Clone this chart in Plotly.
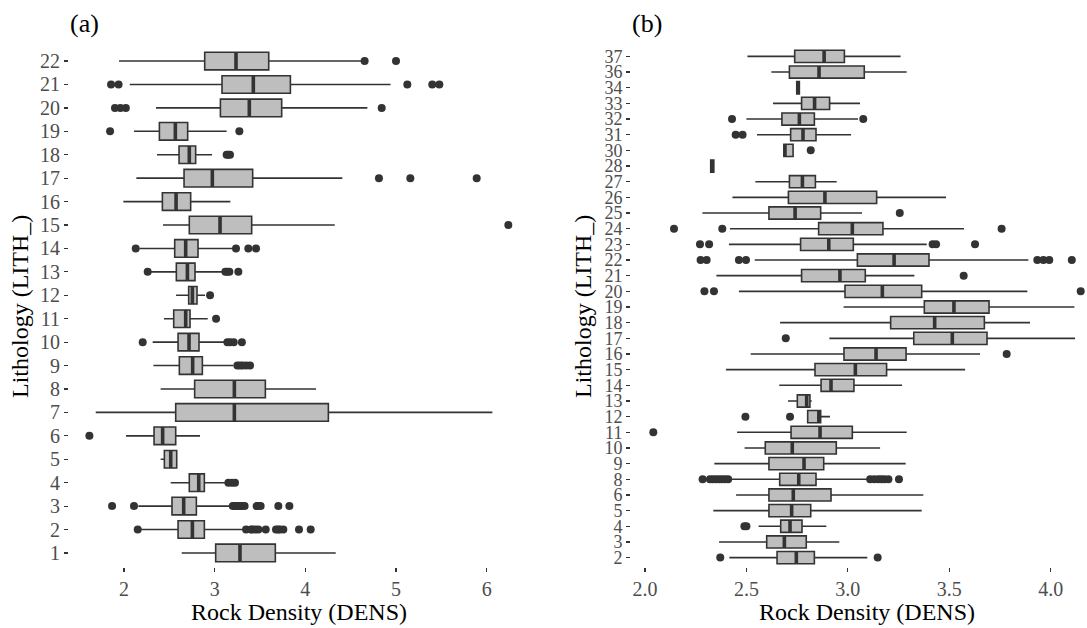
import plotly.graph_objects as go

# ---------------- Panel (a) data ----------------
lith_a = [str(i) for i in range(1, 23)]
q1_a = [3.011, 2.596, 2.529, 2.720, 2.445, 2.331, 2.570, 2.779, 2.610, 2.596, 2.548,
        2.713, 2.577, 2.559, 2.720, 2.423, 2.662, 2.607, 2.390, 3.063, 3.081, 2.890]
med_a = [3.279, 2.754, 2.658, 2.824, 2.515, 2.426, 3.217, 3.217, 2.757, 2.717, 2.680,
         2.754, 2.699, 2.680, 3.059, 2.574, 2.974, 2.720, 2.566, 3.382, 3.426, 3.235]
q3_a = [3.669, 2.886, 2.798, 2.886, 2.581, 2.570, 4.254, 3.559, 2.864, 2.827, 2.728,
        2.805, 2.783, 2.816, 3.408, 2.735, 3.419, 2.790, 2.702, 3.739, 3.835, 3.596]
lo_a = [2.636, 2.170, 2.158, 2.515, 2.404, 2.022, 1.688, 2.404, 2.324, 2.316, 2.441,
        2.574, 2.270, 2.170, 2.430, 1.993, 2.136, 2.364, 2.110, 2.353, 2.063, 1.945]
hi_a = [4.335, 3.310, 3.169, 3.114, 2.581, 2.838, 6.063, 4.118, 3.206, 3.132, 2.923,
        2.893, 3.096, 3.200, 4.324, 3.173, 4.408, 2.971, 3.132, 4.684, 4.940, 4.620]
out_a_lith = (["2"] * 13 + ["3"] * 14 + ["4"] * 3 + ["6"] + ["9"] * 5 + ["10"] * 5 +
              ["11"] + ["12"] + ["13"] * 5 + ["14"] * 4 + ["15"] + ["17"] * 3 +
              ["18"] * 3 + ["19"] * 2 + ["20"] * 4 + ["21"] * 5 + ["22"] * 2)
out_a_dens = [2.151, 3.346, 3.400, 3.419, 3.450, 3.482, 3.563, 3.676, 3.700, 3.720, 3.757, 3.930, 4.059,
              1.868, 2.110, 3.200, 3.220, 3.240, 3.260, 3.280, 3.300, 3.330, 3.463, 3.480, 3.507, 3.702, 3.824,
              3.151, 3.190, 3.224,
              1.618,
              3.250, 3.280, 3.310, 3.350, 3.390,
              2.206, 3.140, 3.170, 3.210, 3.300,
              3.015,
              2.949,
              2.261, 3.118, 3.140, 3.162, 3.261,
              2.129, 3.235, 3.371, 3.456,
              6.239,
              4.812, 5.158, 5.890,
              3.132, 3.150, 3.169,
              1.846, 3.272,
              1.900, 1.960, 2.020, 4.842,
              1.857, 1.940, 5.125, 5.400, 5.478,
              4.654, 5.000]

# ---------------- Panel (b) data ----------------
lith_b = ["2", "3", "4", "5", "6"] + [str(i) for i in range(8, 29)] + ["30", "31", "32", "33", "34", "36", "37"]
q1_b = [2.651, 2.600, 2.669, 2.611, 2.611, 2.664, 2.611, 2.593, 2.720, 2.802, 2.751, 2.868,
        2.838, 2.981, 3.325, 3.211, 3.377, 2.986, 2.772, 3.047, 2.767, 2.856, 2.611, 2.707,
        2.712, 2.324, 2.685, 2.718, 2.675, 2.772, 2.748, 2.712, 2.738]
med_b = [2.746, 2.687, 2.715, 2.723, 2.731, 2.758, 2.784, 2.726, 2.863, 2.857, 2.797, 2.917,
         3.037, 3.139, 3.515, 3.428, 3.523, 3.170, 2.961, 3.228, 2.906, 3.022, 2.740, 2.887,
         2.776, 2.332, 2.690, 2.779, 2.761, 2.836, 2.755, 2.858, 2.883]
q3_b = [2.835, 2.795, 2.774, 2.817, 2.917, 2.843, 2.881, 2.943, 3.022, 2.866, 2.813, 3.030,
        3.191, 3.287, 3.686, 3.673, 3.696, 3.364, 3.086, 3.400, 3.027, 3.173, 2.866, 3.142,
        2.840, 2.339, 2.730, 2.843, 2.835, 2.910, 2.761, 3.081, 2.983]
lo_b = [2.416, 2.365, 2.560, 2.337, 2.449, 2.419, 2.342, 2.491, 2.454, 2.802, 2.705, 2.662,
        2.399, 2.521, 2.909, 2.666, 2.979, 2.463, 2.352, 2.541, 2.414, 2.419, 2.283, 2.431,
        2.544, 2.324, 2.685, 2.552, 2.500, 2.631, 2.748, 2.623, 2.505]
hi_b = [3.096, 2.958, 2.894, 3.364, 3.372, 3.100, 3.285, 3.159, 3.290, 2.912, 2.822, 3.267,
        3.578, 3.652, 4.120, 3.898, 4.117, 3.885, 3.328, 3.890, 3.389, 3.573, 3.070, 3.484,
        2.945, 2.339, 2.730, 3.016, 3.050, 3.060, 2.761, 3.290, 3.260]
out_b_lith = (["2"] * 2 + ["4"] * 2 + ["8"] * 15 + ["11"] + ["12"] * 2 + ["16"] + ["17"] +
              ["20"] * 3 + ["21"] + ["22"] * 8 + ["23"] * 5 + ["24"] * 3 + ["25"] +
              ["30"] + ["31"] * 2 + ["32"] * 2)
out_b_dens = [2.371, 3.147,
              2.490, 2.500,
              2.284, 2.320, 2.335, 2.350, 2.365, 2.380, 2.395, 2.410,
              3.110, 3.130, 3.150, 3.165, 3.180, 3.200, 3.252,
              2.041,
              2.495, 2.715,
              3.783,
              2.694,
              2.293, 2.340, 4.148,
              3.571,
              2.274, 2.304, 2.463, 2.498, 3.934, 3.964, 3.993, 4.104,
              2.271, 2.316, 3.418, 3.435, 3.627,
              2.143, 2.381, 3.758,
              3.256,
              2.817,
              2.447, 2.481,
              2.429, 3.076]

x_ticks_a = [2, 3, 4, 5, 6]
x_ticks_b = [2.0, 2.5, 3.0, 3.5, 4.0]

# ---------------- Figure ----------------
W, H = 1087, 628
FONT = "Liberation Serif, Times New Roman, serif"
BOX_FILL = "#bebebe"
LINE = "#333333"
TICK_COL = "#4d4d4d"

fig = go.Figure()


def add_panel(xa, ya, cats, q1, med, q3, lo, hi, out_cats, out_vals, box_w, med_size):
    fig.add_trace(go.Box(
        y=cats, q1=q1, median=med, q3=q3, lowerfence=lo, upperfence=hi,
        orientation="h", fillcolor=BOX_FILL, line=dict(color=LINE, width=1.6),
        whiskerwidth=0, width=box_w, boxpoints=False, showlegend=False,
        xaxis=xa, yaxis=ya))
    fig.add_trace(go.Scatter(
        x=med, y=cats, mode="markers", showlegend=False, hoverinfo="skip",
        marker=dict(symbol="line-ns", size=med_size, color=LINE,
                    line=dict(color=LINE, width=3.6)),
        xaxis=xa, yaxis=ya))
    fig.add_trace(go.Scatter(
        x=out_vals, y=out_cats, mode="markers", showlegend=False,
        marker=dict(symbol="circle", size=8, color=LINE, line=dict(width=0)),
        xaxis=xa, yaxis=ya))


add_panel("x", "y", lith_a, q1_a, med_a, q3_a, lo_a, hi_a, out_a_lith, out_a_dens, 0.75, 12.6)
add_panel("x2", "y2", lith_b, q1_b, med_b, q3_b, lo_b, hi_b, out_b_lith, out_b_dens, 0.78, 8.7)

y_dom = [1 - 567 / H, 1 - 47 / H]
common_x = dict(showgrid=False, zeroline=False, showline=False, ticks="outside",
                ticklen=4, tickwidth=1.2, tickcolor=LINE,
                tickfont=dict(family=FONT, size=20, color=TICK_COL))
common_y = dict(type="category", showgrid=False, zeroline=False, showline=False,
                ticks="outside", ticklen=4, tickwidth=1.2, tickcolor=LINE,
                categoryorder="array", tickmode="array")

fig.update_layout(
    width=W, height=H, margin=dict(l=0, r=0, t=0, b=0),
    paper_bgcolor="white", plot_bgcolor="white", showlegend=False,
    boxmode="overlay", hovermode=False,
    xaxis=dict(domain=[69 / W, 528 / W], range=[1.393, 6.456],
               tickvals=x_ticks_a, ticktext=[str(v) for v in x_ticks_a],
               anchor="y", **common_x),
    yaxis=dict(domain=y_dom, range=[-0.6, len(lith_a) - 0.4], categoryarray=lith_a,
               tickvals=lith_a, ticktext=lith_a,
               tickfont=dict(family=FONT, size=20, color=TICK_COL), anchor="x", **common_y),
    xaxis2=dict(domain=[631 / W, 1.0], range=[1.931, 4.179],
                tickvals=x_ticks_b, ticktext=[f"{v:.1f}" for v in x_ticks_b],
                anchor="y2", **common_x),
    yaxis2=dict(domain=y_dom, range=[-0.6, len(lith_b) - 0.4], categoryarray=lith_b,
                tickvals=lith_b, ticktext=lith_b,
                tickfont=dict(family=FONT, size=18, color=TICK_COL), anchor="x2", **common_y),
)

ann_font = dict(family=FONT, size=24, color="black")
annotations = [
    dict(text="(a)", x=84 / W, y=1 - 23 / H, font=dict(family=FONT, size=26, color="black")),
    dict(text="(b)", x=647 / W, y=1 - 23 / H, font=dict(family=FONT, size=26, color="black")),
    dict(text="Rock Density (DENS)", x=299 / W, y=1 - 612 / H, font=ann_font),
    dict(text="Rock Density (DENS)", x=867 / W, y=1 - 612 / H, font=ann_font),
    dict(text="Lithology (LITH_)", x=20 / W, y=1 - 307 / H, textangle=-90, font=ann_font),
    dict(text="Lithology (LITH_)", x=583 / W, y=1 - 307 / H, textangle=-90, font=ann_font),
]
for a in annotations:
    a.update(xref="paper", yref="paper", showarrow=False, xanchor="center", yanchor="middle")
fig.update_layout(annotations=annotations)

fig.write_html(
    "out.html",
    config={"displayModeBar": False, "staticPlot": True},
    post_script="document.body.style.margin='0';document.body.style.overflow='hidden';",
)
